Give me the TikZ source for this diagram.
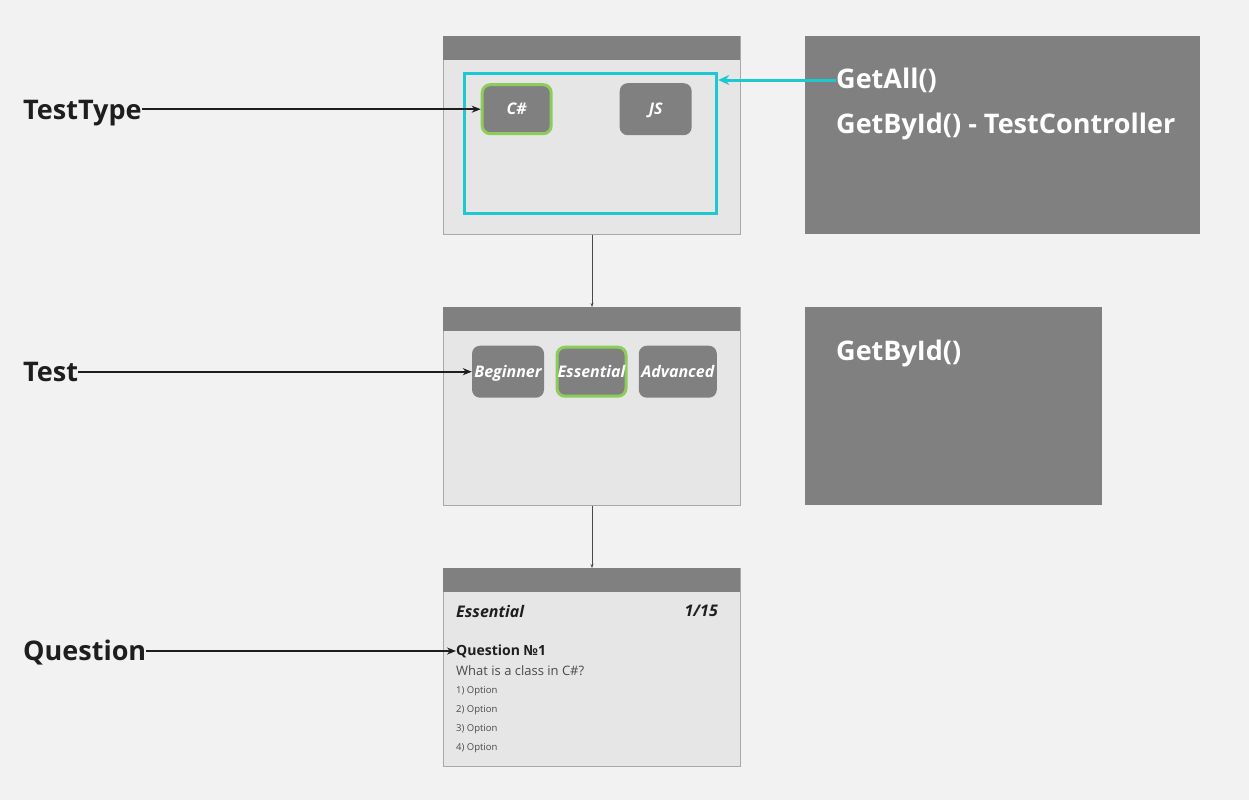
\documentclass[tikz,border=0pt]{standalone}
\usepackage{fontspec}
\setmainfont{Open Sans}
\usetikzlibrary{arrows.meta,positioning}
\definecolor{bg}{HTML}{F2F2F2}
\definecolor{panel}{HTML}{E6E6E6}
\definecolor{dark}{HTML}{808080}
\definecolor{edge}{HTML}{A8A8A8}
\definecolor{cyanline}{HTML}{1EC8D2}
\definecolor{pick}{HTML}{8DCB5B}
\definecolor{ink}{HTML}{1E1E1E}
\definecolor{soft}{HTML}{4A4A4A}

\begin{document}
\begin{tikzpicture}[x=1pt, y=-1pt,
    screen/.style={draw=edge, fill=panel, line width=1pt, anchor=north west, minimum width=297pt, minimum height=198pt, inner sep=0pt},
    bar/.style={fill=dark, anchor=north west, minimum width=297pt, minimum height=24pt, inner sep=0pt},
    btn/.style={fill=dark, rounded corners=8pt, text=white, font=\bfseries\itshape\fontsize{16}{19}\selectfont, text height=1.12em, text depth=0em, minimum width=72pt, minimum height=52pt, inner sep=0pt},
    picked/.style={draw=pick, line width=3pt, minimum width=69pt, minimum height=49pt},
    api/.style={fill=dark, anchor=north west, minimum height=198pt, inner sep=0pt},
    call/.style={anchor=west, inner sep=0pt, text=white, font=\bfseries\fontsize{27}{32}\selectfont},
    tag/.style={anchor=base west, inner sep=0pt, text=ink, font=\bfseries\fontsize{27}{32}\selectfont},
    arr/.style={-{Stealth[length=9pt,width=7pt]}, line width=2pt, ink},
    link/.style={-{Stealth[length=4pt,width=3pt]}, line width=0.8pt, soft}
]
\fill[bg] (0,0) rectangle (1249,800);

% screens
\node[screen] (s1) at (443,36) {};
\node[bar] (b1) at (s1.north west) {};
\node[screen] (s2) at (443,307) {};
\node[bar] (b2) at (s2.north west) {};
\node[screen] (s3) at (443,568) {};
\node[bar] (b3) at (s3.north west) {};

% test types
\node[draw=cyanline, line width=3pt, anchor=north west, minimum width=252pt, minimum height=140pt, inner sep=0pt] (frame) at (463.2,72.2) {};
\node[btn, picked] (cs) at (516.7,109.2) {C\#};
\node[btn] (js) at (655.7,109.2) {JS};

% tests
\node[btn] (beg) at (508,371.7) {Beginner};
\node[btn, picked] (ess) at (591.5,371.7) {Essential};
\node[btn, minimum width=78pt] (adv) at (677.8,371.7) {Advanced};

% question
\node[anchor=west, inner sep=0pt, text=ink, font=\bfseries\itshape\fontsize{16}{19}\selectfont] (lvl) at (456,611) {Essential};
\node[anchor=east, inner sep=0pt, text=ink, font=\bfseries\itshape\fontsize{16}{19}\selectfont] (count) at (718,611) {1/15};
\node[anchor=west, inner sep=0pt, text=ink, font=\bfseries\fontsize{14}{17}\selectfont] (qtitle) at (456,651) {Question №1};
\node[anchor=west, inner sep=0pt, text=soft, font=\fontsize{13}{16}\selectfont] (qtext) at (456,671) {What is a class in C\#?};
\foreach \i in {1,...,4}
  \node[anchor=west, inner sep=0pt, text=soft, font=\fontsize{9.5}{11}\selectfont] (opt\i) at (456,672+19*\i) {\i) Option};

% controllers
\node[api, minimum width=395pt] (api1) at (805,36) {};
\node[call] (getall) at (836,80) {GetAll()};
\node[call] (getbyid) at (836,126) {GetById() - TestController};
\node[api, minimum width=297pt] (api2) at (805,307) {};
\node[call] (getone) at (836,353) {GetById()};

% labels
\node[tag] (ttype) at (23,119) {TestType};
\node[tag] (test) at (23,381) {Test};
\node[tag] (quest) at (23,660) {Question};

\draw[arr] (ttype.east |- cs.west) -- (cs.west);
\draw[arr] (test.east |- beg.west) -- (beg.west);
\draw[arr] (quest.east |- qtitle.west) -- (qtitle.west);
\draw[-{Stealth[length=11pt,width=10pt]}, line width=3pt, cyanline] (getall.west) -- (getall.west -| frame.east);
\draw[link] (s1.south) -- (s2.north);
\draw[link] (s2.south) -- (s3.north);
\end{tikzpicture}
\end{document}
